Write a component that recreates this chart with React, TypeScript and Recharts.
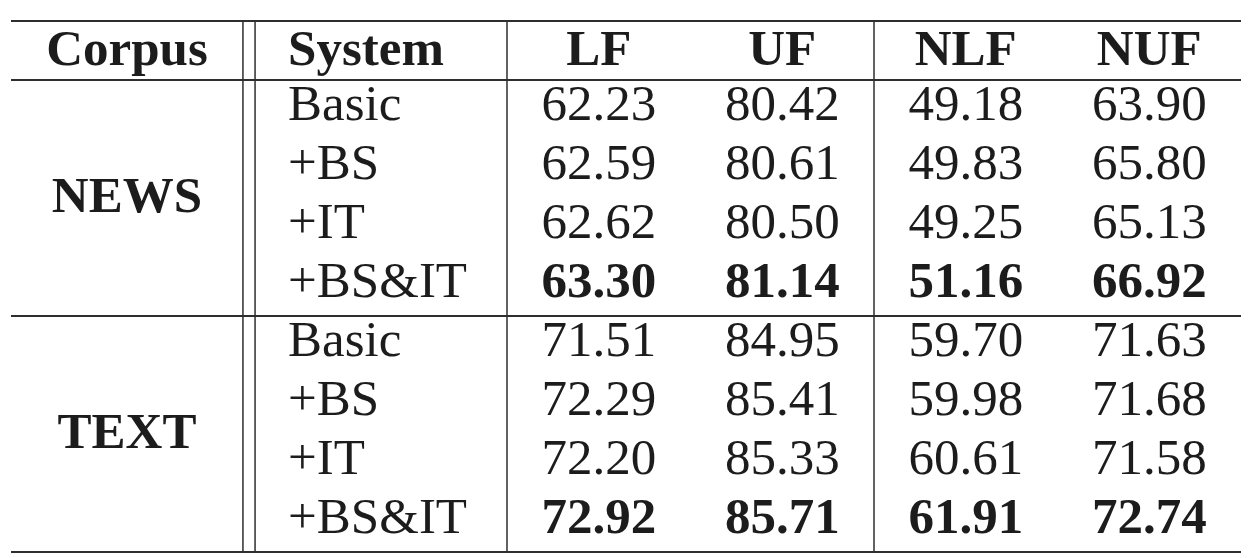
import { ScatterChart, Scatter, XAxis, YAxis, ReferenceLine } from "recharts"

// table content
const corpora = ["NEWS", "TEXT"]
const systems = ["Basic", "+BS", "+IT", "+BS&IT"]
const metrics = ["LF", "UF", "NLF", "NUF"]

const newsLF = [62.23, 62.59, 62.62, 63.3]
const newsUF = [80.42, 80.61, 80.5, 81.14]
const newsNLF = [49.18, 49.83, 49.25, 51.16]
const newsNUF = [63.9, 65.8, 65.13, 66.92]

const textLF = [71.51, 72.29, 72.2, 72.92]
const textUF = [84.95, 85.41, 85.33, 85.71]
const textNLF = [59.7, 59.98, 60.61, 61.91]
const textNUF = [71.63, 71.68, 71.58, 72.74]

const scores = [
  [newsLF, newsUF, newsNLF, newsNUF],
  [textLF, textUF, textNLF, textNUF],
]

// layout, in units of one metric column
const CORPUS_W = 1.264
const RULE_GAP = 0.066
const LABEL_W = 2.703
const SYSTEM_X = CORPUS_W + RULE_GAP + 0.18
const TABLE_W = LABEL_W + metrics.length
const TABLE_ROWS = 1 + corpora.length * systems.length

const FONT = "'Liberation Serif', 'Times New Roman', serif"
const INK = "#1c1c1c"
const RULE = "#2e2e2e"

type Cell = { x: number; y: number; text: string; anchor: string; bold: boolean }

const headerCells: Cell[] = [
  { x: CORPUS_W / 2, y: 0.5, text: "Corpus", anchor: "middle", bold: true },
  { x: SYSTEM_X, y: 0.5, text: "System", anchor: "start", bold: true },
  ...metrics.map((m, i) => ({
    x: LABEL_W + i + 0.5,
    y: 0.5,
    text: m,
    anchor: "middle",
    bold: true,
  })),
]

const corpusCells: Cell[] = corpora.map((c, ci) => ({
  x: CORPUS_W / 2,
  y: 1 + ci * systems.length + systems.length / 2,
  text: c,
  anchor: "middle",
  bold: true,
}))

const bodyCells: Cell[] = corpora.flatMap((_, ci) =>
  systems.flatMap((s, si) => {
    const y = 1 + ci * systems.length + si + 0.5
    const sys: Cell = { x: SYSTEM_X, y, text: s, anchor: "start", bold: false }
    const vals: Cell[] = scores[ci].map((col, mi) => ({
      x: LABEL_W + mi + 0.5,
      y,
      text: col[si].toFixed(2),
      anchor: "middle",
      bold: col[si] === Math.max(...col),
    }))
    return [sys, ...vals]
  })
)

const blockEnds = corpora.map((_, ci) => 1 + (ci + 1) * systems.length)

function cellShape(dy: number) {
  return (props: any) => {
    const p = props.payload as Cell
    return (
      <text
        x={props.cx}
        y={props.cy + dy}
        textAnchor={p.anchor}
        fontFamily={FONT}
        fontSize={51}
        fontWeight={p.bold ? 700 : 400}
        fill={INK}
      >
        {p.text}
      </text>
    )
  }
}

export default function App() {
  return (
    <div style={{ position: "absolute", left: 0, top: 0, width: 1254, height: 558, background: "#fff" }}>
      <ScatterChart
        width={1254}
        height={558}
        margin={{ top: 21, right: 13, bottom: 6, left: 11 }}
      >
        <XAxis type="number" dataKey="x" domain={[0, TABLE_W]} hide />
        <YAxis type="number" dataKey="y" domain={[0, TABLE_ROWS]} reversed hide />

        <ReferenceLine y={0} stroke={RULE} strokeWidth={2} />
        <ReferenceLine y={1} stroke={RULE} strokeWidth={2} />
        {blockEnds.map((y) => (
          <ReferenceLine key={y} y={y} stroke={RULE} strokeWidth={2} />
        ))}
        <ReferenceLine x={CORPUS_W} stroke={RULE} strokeWidth={1.5} />
        <ReferenceLine x={CORPUS_W + RULE_GAP} stroke={RULE} strokeWidth={1.5} />
        <ReferenceLine x={LABEL_W} stroke={RULE} strokeWidth={1.5} />
        <ReferenceLine x={LABEL_W + 2} stroke={RULE} strokeWidth={1.5} />

        <Scatter data={headerCells} shape={cellShape(14.5)} isAnimationActive={false} />
        <Scatter data={corpusCells} shape={cellShape(14)} isAnimationActive={false} />
        <Scatter data={bodyCells} shape={cellShape(10)} isAnimationActive={false} />
      </ScatterChart>
    </div>
  )
}
